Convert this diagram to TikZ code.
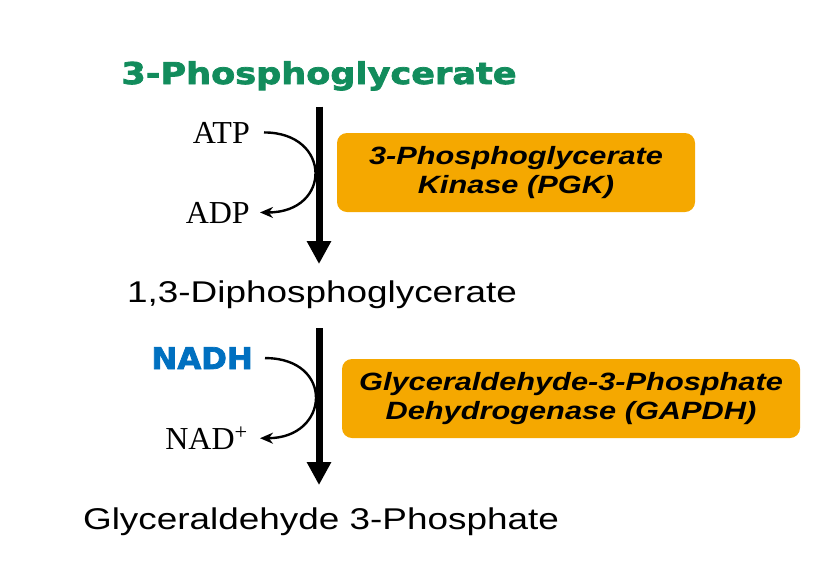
\documentclass[tikz,border=0pt]{standalone}
\usepackage{fontspec}
\usepackage{tikz}
\usetikzlibrary{arrows.meta}
\newfontfamily\arialfont[FakeStretch=1.23]{Liberation Sans}
\newfontfamily\heavyfont[FakeStretch=1.17, FakeBold=2.5]{DejaVu Sans}
\newfontfamily\heavynarrow[FakeStretch=1.03, FakeBold=2.5]{DejaVu Sans}
\newfontfamily\timesfont{Liberation Serif}
\definecolor{titlegreen}{RGB}{18,140,92}
\definecolor{nadblue}{RGB}{0,112,192}
\definecolor{enzorange}{RGB}{245,168,0}

\begin{document}
\begin{tikzpicture}[x=1pt, y=-1pt, every node/.style={inner sep=2pt},
	enzyme/.style={fill=enzorange, rounded corners=10pt, align=center, minimum height=79pt,
		font={\arialfont\bfseries\itshape\fontsize{25}{28.5}\selectfont}},
	cofactor/.style={font={\timesfont\fontsize{32}{36}\selectfont}, anchor=base east},
	metabolite/.style={font={\arialfont\fontsize{30}{34}\selectfont}, anchor=base},
	reaction/.style={line width=7pt, -{Triangle[length=23pt, width=23pt]}},
	swap/.style={line width=2.4pt, -{Stealth[length=13pt, width=11pt]}}]
	\useasboundingbox (0,0) rectangle (837,571);
	\node[anchor=base, text=titlegreen, font={\heavyfont\bfseries\fontsize{30}{34}\selectfont}] (pg) at (319,84) {3-Phosphoglycerate};
	\node[metabolite] (dpg) at (322,302) {1,3-Diphosphoglycerate};
	\node[metabolite] (gap) at (321,529) {Glyceraldehyde 3-Phosphate};
	\node[cofactor] (atp) at (252,143) {ATP};
	\node[cofactor] (adp) at (252,223) {ADP};
	\node[anchor=base east, text=nadblue, font={\heavynarrow\bfseries\fontsize{30}{34}\selectfont}] (nadh) at (255,369) {NADH};
	\node[cofactor] (nad) at (250,449) {NAD\textsuperscript{+}};
	\node[enzyme, minimum width=358pt] (pgk) at (516,172.5) {3-Phosphoglycerate\\Kinase (PGK)};
	\node[enzyme, minimum width=458pt] (gapdh) at (571,398.5) {Glyceraldehyde-3-Phosphate\\Dehydrogenase (GAPDH)};
	\draw[reaction, shorten <=14pt, shorten >=14pt] (pg.south) -- (pg.south |- dpg.north);
	\draw[reaction, shorten <=17.7pt, shorten >=20pt] (pg.south |- dpg.south) -- (pg.south |- gap.north);
	\draw[swap, shorten <=12pt, shorten >=8pt] (atp.east) .. controls +(80,0) and +(80,0) .. (adp.east);
	\draw[swap, shorten <=10pt, shorten >=10pt] (nadh.east) .. controls +(80,0) and +(80,0) .. (nad.east);
\end{tikzpicture}
\end{document}
